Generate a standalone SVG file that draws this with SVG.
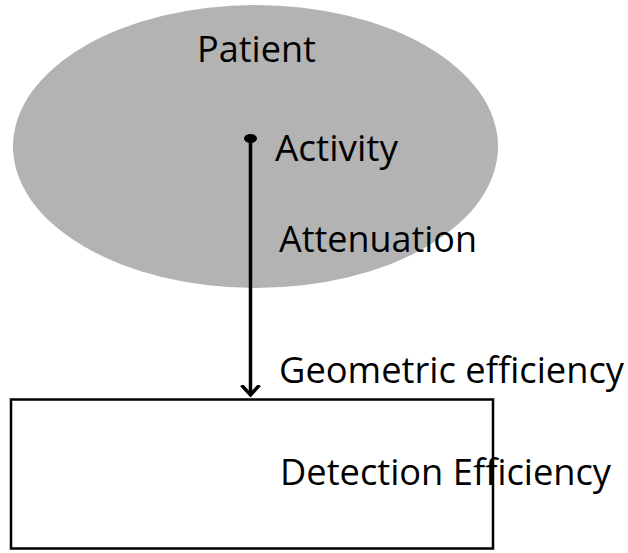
<svg xmlns="http://www.w3.org/2000/svg" width="628" height="553" viewBox="0 0 628 553">
<style>
.t{font-family:"Open Sans","Liberation Sans",sans-serif;font-size:36px;fill:#000}
</style>
<defs>
<marker id="arr" markerWidth="24" markerHeight="24" refX="10" refY="12" orient="auto" markerUnits="userSpaceOnUse">
<path d="M0,3 L10,12 L0,21" fill="none" stroke="#000" stroke-width="3.5"/>
</marker>
</defs>
<rect width="628" height="553" fill="#fff"/>
<g id="patient">
<ellipse cx="255.5" cy="146.5" rx="242.5" ry="141.5" fill="#b3b3b3"/>
<text class="t" x="197" y="62" textLength="119" lengthAdjust="spacingAndGlyphs">Patient</text>
</g>
<g id="detector">
<rect x="11" y="399.5" width="482" height="149" fill="#fff" stroke="#000" stroke-width="2.5"/>
<text class="t" x="280" y="485" textLength="331" lengthAdjust="spacingAndGlyphs">Detection Efficiency</text>
</g>
<g id="connectors">
<ellipse cx="250.5" cy="138.5" rx="6.5" ry="4.5" fill="#000"/>
<line x1="250.5" y1="139" x2="250.5" y2="395" stroke="#000" stroke-width="3.5" marker-end="url(#arr)"/>
</g>
<g id="labels">
<text class="t" x="275" y="161" textLength="123" lengthAdjust="spacingAndGlyphs">Activity</text>
<text class="t" x="279" y="252" textLength="198" lengthAdjust="spacingAndGlyphs">Attenuation</text>
<text class="t" x="279" y="383" textLength="345" lengthAdjust="spacingAndGlyphs">Geometric efficiency</text>
</g>
</svg>
